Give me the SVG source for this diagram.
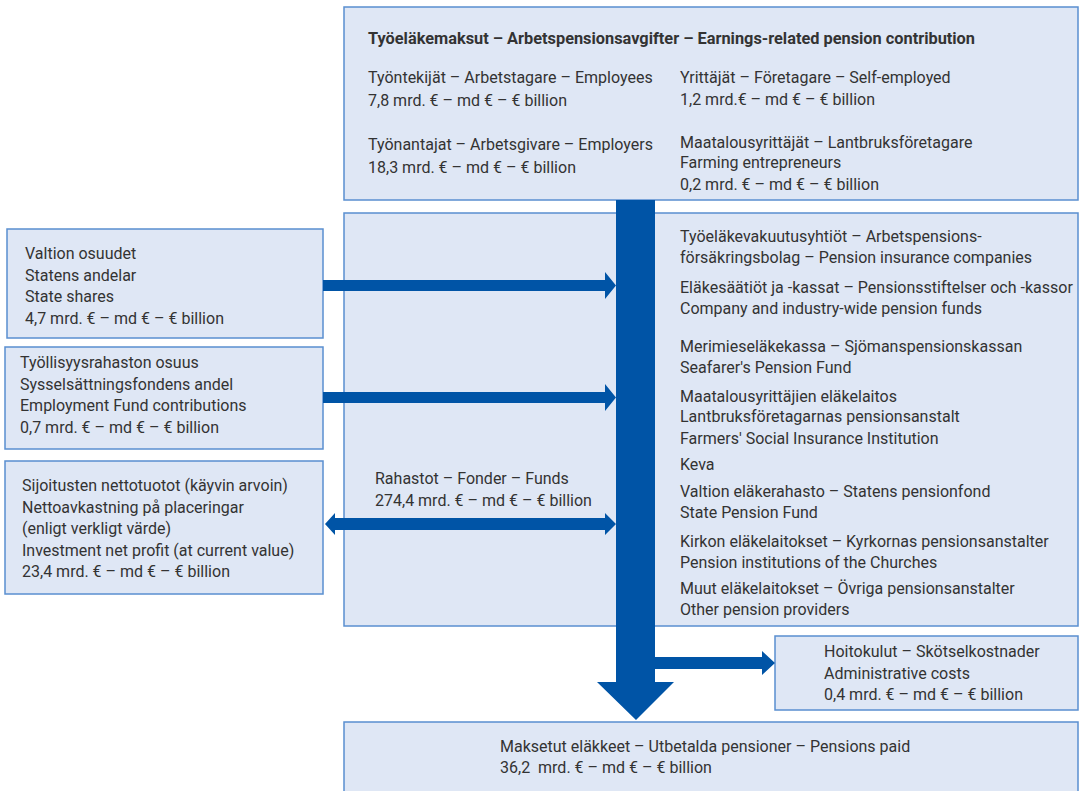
<svg xmlns="http://www.w3.org/2000/svg" width="1082" height="791" viewBox="0 0 1082 791">
<style>
.box{fill:#dfe7f5;stroke:#5a8fd0;stroke-width:1.5}
.t{font-family:Roboto,"Liberation Sans",sans-serif;font-size:16px;fill:#333}
.b{font-weight:bold}
.ar{fill:#0054a6}
</style>
<rect width="1082" height="791" fill="#fff"/>
<g id="contrib">
<rect class="box" x="344" y="7" width="734" height="193"/>
<text class="t b" x="368" y="44" textLength="607" lengthAdjust="spacingAndGlyphs">Työeläkemaksut – Arbetspensionsavgifter – Earnings-related pension contribution</text>
<text class="t" x="368" y="83">Työntekijät – Arbetstagare – Employees</text>
<text class="t" x="368" y="106">7,8 mrd. € – md € – € billion</text>
<text class="t" x="368" y="150">Työnantajat – Arbetsgivare – Employers</text>
<text class="t" x="368" y="173">18,3 mrd. € – md € – € billion</text>
<text class="t" x="680" y="83">Yrittäjät – Företagare – Self-employed</text>
<text class="t" x="680" y="105">1,2 mrd.€ – md € – € billion</text>
<text class="t" x="680" y="148">Maatalousyrittäjät – Lantbruksföretagare</text>
<text class="t" x="680" y="168">Farming entrepreneurs</text>
<text class="t" x="680" y="190">0,2 mrd. € – md € – € billion</text>
</g>
<g id="funds">
<rect class="box" x="344" y="213" width="734" height="413"/>
<text class="t" x="375" y="484">Rahastot – Fonder – Funds</text>
<text class="t" x="375" y="506">274,4 mrd. € – md € – € billion</text>
<text class="t" x="680" y="242">Työeläkevakuutusyhtiöt – Arbetspensions-</text>
<text class="t" x="680" y="263">försäkringsbolag – Pension insurance companies</text>
<text class="t" x="680" y="293">Eläkesäätiöt ja -kassat – Pensionsstiftelser och -kassor</text>
<text class="t" x="680" y="314">Company and industry-wide pension funds</text>
<text class="t" x="680" y="352">Merimieseläkekassa – Sjömanspensionskassan</text>
<text class="t" x="680" y="373">Seafarer's Pension Fund</text>
<text class="t" x="680" y="402">Maatalousyrittäjien eläkelaitos</text>
<text class="t" x="680" y="422">Lantbruksföretagarnas pensionsanstalt</text>
<text class="t" x="680" y="444">Farmers' Social Insurance Institution</text>
<text class="t" x="680" y="470">Keva</text>
<text class="t" x="680" y="497">Valtion eläkerahasto – Statens pensionfond</text>
<text class="t" x="680" y="518">State Pension Fund</text>
<text class="t" x="680" y="547">Kirkon eläkelaitokset – Kyrkornas pensionsanstalter</text>
<text class="t" x="680" y="568">Pension institutions of the Churches</text>
<text class="t" x="680" y="594">Muut eläkelaitokset – Övriga pensionsanstalter</text>
<text class="t" x="680" y="615">Other pension providers</text>
</g>
<g id="state">
<rect class="box" x="7" y="229" width="316" height="109"/>
<text class="t" x="25" y="259">Valtion osuudet</text>
<text class="t" x="25" y="281">Statens andelar</text>
<text class="t" x="25" y="302">State shares</text>
<text class="t" x="25" y="324">4,7 mrd. € – md € – € billion</text>
</g>
<g id="employment">
<rect class="box" x="5" y="347" width="318" height="102"/>
<text class="t" x="20" y="368">Työllisyysrahaston osuus</text>
<text class="t" x="20" y="390">Sysselsättningsfondens andel</text>
<text class="t" x="20" y="411">Employment Fund contributions</text>
<text class="t" x="20" y="433">0,7 mrd. € – md € – € billion</text>
</g>
<g id="investment">
<rect class="box" x="5" y="461" width="318" height="133"/>
<text class="t" x="22" y="491">Sijoitusten nettotuotot (käyvin arvoin)</text>
<text class="t" x="22" y="513">Nettoavkastning på placeringar</text>
<text class="t" x="22" y="534">(enligt verkligt värde)</text>
<text class="t" x="22" y="556">Investment net profit (at current value)</text>
<text class="t" x="22" y="577">23,4 mrd. € – md € – € billion</text>
</g>
<g id="admin">
<rect class="box" x="775" y="636" width="303" height="74"/>
<text class="t" x="824" y="657">Hoitokulut – Skötselkostnader</text>
<text class="t" x="824" y="679">Administrative costs</text>
<text class="t" x="824" y="700">0,4 mrd. € – md € – € billion</text>
</g>
<g id="paid">
<rect class="box" x="344" y="722" width="734" height="70"/>
<text class="t" x="500" y="752">Maksetut eläkkeet – Utbetalda pensioner – Pensions paid</text>
<text class="t" x="500" y="773">36,2&#160; mrd. € – md € – € billion</text>
</g>
<g id="connectors">
<polygon class="ar" points="616,200 655,200 655,682 674,682 636,720 597,682 616,682"/>
<polygon class="ar" points="655,657 762,657 762,651 775,663 762,675 762,669 655,669"/>
<polygon class="ar" points="323,280 605,280 605,272 616,285.5 605,299 605,291 323,291"/>
<polygon class="ar" points="323,392 605,392 605,384 616,397.5 605,411 605,403 323,403"/>
<polygon class="ar" points="335,518 605,518 605,513 616,524 605,535 605,530 335,530 335,535 325,524 335,513"/>
</g>
</svg>
